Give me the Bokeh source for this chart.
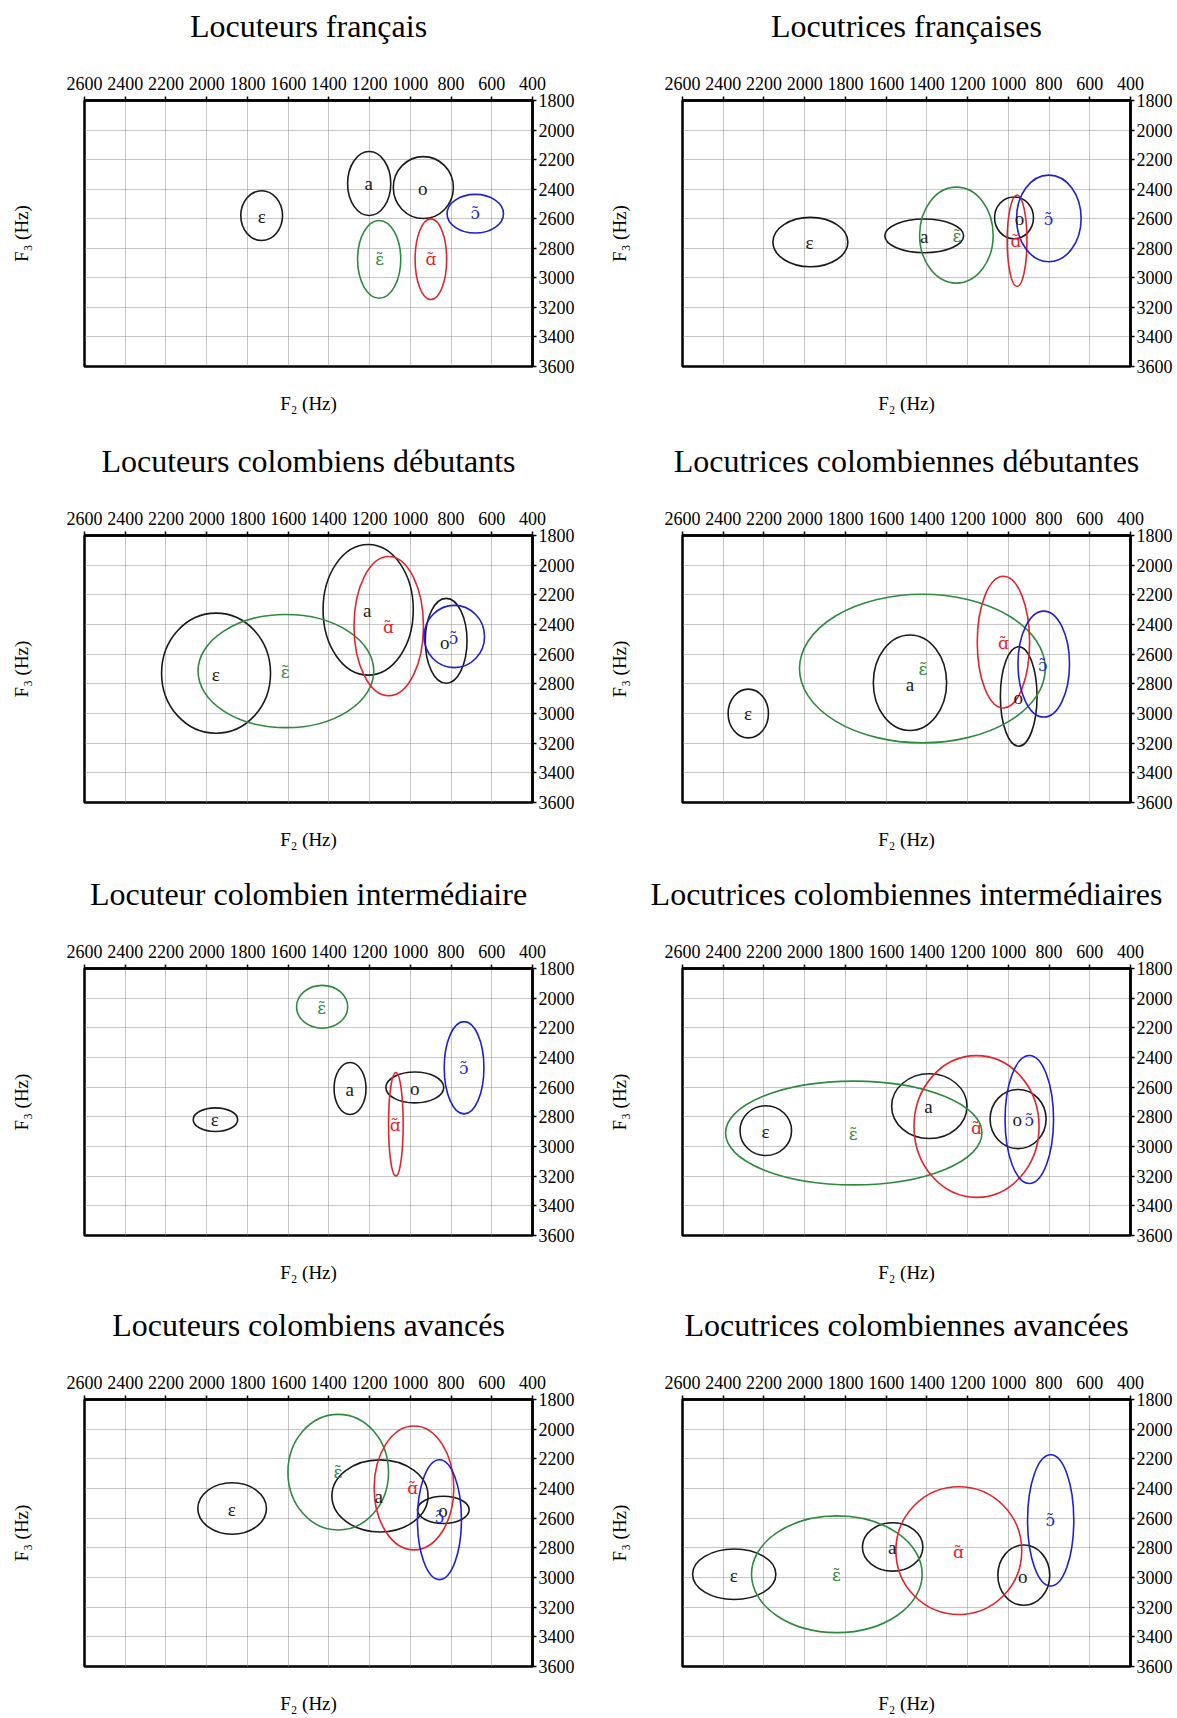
from bokeh.plotting import figure
from bokeh.models import Range1d, FixedTicker, ColumnDataSource, LinearAxis
from bokeh.layouts import column, row
from bokeh.embed import file_html
from bokeh.resources import INLINE

# ---------------- data ----------------
VOWELS = ["ε", "a", "o", "ɛ̃", "ɑ̃", "ɔ̃"]
VOWEL_COLORS = ["#1a1a1a", "#1a1a1a", "#1a1a1a", "#2e8b3e", "#e3242b", "#1f1fd6"]
VOWEL_FONTS = ["Liberation Serif", "Liberation Serif", "Liberation Serif",
               "DejaVu Serif", "DejaVu Serif", "DejaVu Serif"]
VOWEL_SIZES = ["19px", "19px", "19px", "17px", "17px", "17px"]

F2_TICKS = [2600, 2400, 2200, 2000, 1800, 1600, 1400, 1200, 1000, 800, 600, 400]
F3_TICKS = [1800, 2000, 2200, 2400, 2600, 2800, 3000, 3200, 3400, 3600]

X_LABEL = "F₂ (Hz)"
Y_LABEL = "F₃ (Hz)"

TITLES = [
    "Locuteurs français",
    "Locutrices françaises",
    "Locuteurs colombiens débutants",
    "Locutrices colombiennes débutantes",
    "Locuteur colombien intermédiaire",
    "Locutrices colombiennes intermédiaires",
    "Locuteurs colombiens avancés",
    "Locutrices colombiennes avancées",
]

# order of every list: ε, a, o, ɛ̃, ɑ̃, ɔ̃
# ellipse centre F2 / F3, ellipse extent along F2 / F3, label position F2 / F3
P1_F2 = [1730, 1202, 936, 1153, 899, 681]
P1_F3 = [2579, 2362, 2389, 2875, 2874, 2566]
P1_W = [205, 212, 295, 212, 155, 277]
P1_H = [337, 433, 419, 526, 546, 261]
P1_LF2 = [1730, 1204, 939, 1151, 899, 681]
P1_LF3 = [2585, 2362, 2395, 2875, 2875, 2562]

P2_F2 = [1972, 1413, 972, 1255, 957, 801]
P2_F3 = [2758, 2716, 2594, 2711, 2749, 2598]
P2_W = [368, 387, 191, 361, 97, 317]
P2_H = [334, 229, 283, 650, 619, 586]
P2_LF2 = [1976, 1413, 945, 1252, 962, 803]
P2_LF3 = [2763, 2720, 2598, 2716, 2753, 2602]

P3_F2 = [1954, 1207, 824, 1611, 1106, 784]
P3_F3 = [2728, 2301, 2510, 2714, 2411, 2481]
P3_W = [535, 443, 205, 863, 341, 297]
P3_H = [810, 880, 572, 763, 938, 420]
P3_LF2 = [1956, 1212, 831, 1615, 1108, 788]
P3_LF3 = [2736, 2305, 2518, 2718, 2414, 2489]

P4_F2 = [2277, 1483, 949, 1422, 1024, 826]
P4_F3 = [3000, 2793, 2885, 2697, 2519, 2667]
P4_W = [198, 360, 180, 1207, 257, 253]
P4_H = [329, 644, 671, 1002, 888, 714]
P4_LF2 = [2279, 1483, 951, 1419, 1024, 831]
P4_LF3 = [3002, 2802, 2889, 2702, 2523, 2674]

P5_F2 = [1957, 1296, 978, 1433, 1071, 736]
P5_F3 = [2819, 2609, 2602, 2058, 2850, 2469]
P5_W = [218, 157, 284, 251, 72, 195]
P5_H = [159, 351, 208, 289, 700, 622]
P5_LF2 = [1960, 1297, 978, 1435, 1074, 738]
P5_LF3 = [2820, 2613, 2611, 2063, 2857, 2471]

P6_F2 = [2191, 1388, 952, 1759, 1156, 897]
P6_F3 = [2893, 2728, 2815, 2909, 2865, 2818]
P6_W = [253, 370, 275, 1259, 614, 238]
P6_H = [336, 437, 399, 699, 956, 862]
P6_LF2 = [2193, 1392, 956, 1762, 1157, 897]
P6_LF3 = [2902, 2733, 2820, 2914, 2874, 2820]

P7_F2 = [1875, 1149, 838, 1354, 982, 857]
P7_F3 = [2535, 2450, 2544, 2290, 2396, 2610]
P7_W = [337, 472, 254, 494, 391, 216]
P7_H = [347, 486, 183, 780, 835, 808]
P7_LF2 = [1877, 1155, 840, 1356, 988, 857]
P7_LF3 = [2542, 2457, 2550, 2290, 2396, 2590]

P8_F2 = [2346, 1568, 924, 1842, 1243, 792]
P8_F3 = [2978, 2794, 2984, 2978, 2819, 2615]
P8_W = [409, 297, 255, 838, 618, 227]
P8_H = [341, 326, 406, 787, 861, 885]
P8_LF2 = [2348, 1570, 929, 1844, 1245, 794]
P8_LF3 = [2985, 2799, 2990, 2982, 2826, 2615]

PANELS = [
    (P1_F2, P1_F3, P1_W, P1_H, P1_LF2, P1_LF3),
    (P2_F2, P2_F3, P2_W, P2_H, P2_LF2, P2_LF3),
    (P3_F2, P3_F3, P3_W, P3_H, P3_LF2, P3_LF3),
    (P4_F2, P4_F3, P4_W, P4_H, P4_LF2, P4_LF3),
    (P5_F2, P5_F3, P5_W, P5_H, P5_LF2, P5_LF3),
    (P6_F2, P6_F3, P6_W, P6_H, P6_LF2, P6_LF3),
    (P7_F2, P7_F3, P7_W, P7_H, P7_LF2, P7_LF3),
    (P8_F2, P8_F3, P8_W, P8_H, P8_LF2, P8_LF3),
]

# ---------------- layout ----------------
SERIF = "Liberation Serif"
ROW_H = [436, 432, 432, 416]
BORDER_TOP = [[98, 100], [98, 99], [99, 100], [98, 99]]
FRAME_H = 268
COL_W = [590, 585]
BORDER_LEFT = [84, 92]
FRAME_W = [448, 449]


def make_panel(idx):
    r, c = divmod(idx, 2)
    f2, f3, w, h, lf2, lf3 = PANELS[idx]
    width = COL_W[c]
    height = ROW_H[r]
    bl = BORDER_LEFT[c]
    br = width - bl - FRAME_W[c]
    bt = BORDER_TOP[r][c]
    bb = height - bt - FRAME_H

    p = figure(width=width, height=height, output_backend="svg",
               toolbar_location=None, tools="",
               x_range=Range1d(2600, 400), y_range=Range1d(3600, 1800),
               x_axis_location="above", y_axis_location="right",
               min_border_left=bl, min_border_right=br,
               min_border_top=bt, min_border_bottom=bb)
    p.background_fill_color = "white"
    p.border_fill_color = "white"
    p.outline_line_color = "black"
    p.outline_line_width = 2.5

    for ax, ticks, standoff in ((p.xaxis[0], F2_TICKS, 7), (p.yaxis[0], F3_TICKS, 2)):
        ax.ticker = FixedTicker(ticks=ticks)
        ax.major_label_text_font = SERIF
        ax.major_label_text_font_size = "18px"
        ax.major_label_text_color = "black"
        ax.major_tick_out = 4
        ax.major_tick_in = 0
        ax.major_tick_line_width = 1.5
        ax.minor_tick_line_color = None
        ax.axis_line_width = 2.5
        ax.major_label_standoff = standoff

    # panel title as the label of the top axis
    top = p.xaxis[0]
    top.axis_label = TITLES[idx]
    top.axis_label_text_font = SERIF
    top.axis_label_text_font_size = "32px"
    top.axis_label_text_font_style = "normal"
    top.axis_label_text_color = "black"
    top.axis_label_standoff = 30

    # bare axes carrying the F2 / F3 labels
    for place, text, stand in (("below", X_LABEL, 26), ("left", Y_LABEL, 53)):
        ax = LinearAxis(ticker=FixedTicker(ticks=[]), axis_label=text,
                        axis_line_color=None, major_tick_line_color=None,
                        minor_tick_line_color=None, major_tick_out=0,
                        major_label_standoff=0, major_label_text_font_size="0px")
        ax.axis_label_text_font = SERIF
        ax.axis_label_text_font_size = "19px"
        ax.axis_label_text_font_style = "normal"
        ax.axis_label_text_color = "black"
        ax.axis_label_standoff = stand
        p.add_layout(ax, place)

    for g in (p.xgrid[0], p.ygrid[0]):
        g.grid_line_color = "#8c8c8c"
        g.grid_line_dash = "1 1"
        g.grid_line_width = 1

    src = ColumnDataSource(dict(x=f2, y=f3, w=w, h=h, lx=lf2, ly=lf3,
                                v=VOWELS, c=VOWEL_COLORS, font=VOWEL_FONTS,
                                size=VOWEL_SIZES))
    p.ellipse(x="x", y="y", width="w", height="h", source=src,
              fill_color=None, line_color="c", line_width=1.6)
    p.text(x="lx", y="ly", text="v", source=src, text_color="c",
           text_align="center", text_baseline="middle",
           text_font="font", text_font_size="size")
    return p


figs = [make_panel(i) for i in range(8)]
layout = column(*[row(figs[2 * r], figs[2 * r + 1]) for r in range(4)])

open("out.html", "w").write(file_html(layout, INLINE))
